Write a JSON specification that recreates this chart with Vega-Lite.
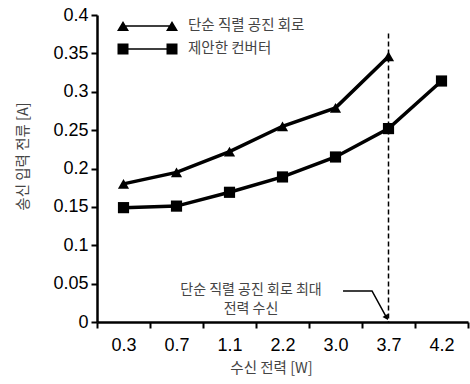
{
  "$schema": "https://vega.github.io/schema/vega-lite/v6.json",
  "width": 371,
  "height": 307,
  "autosize": "none",
  "padding": {"left": 97, "top": 15, "right": 2, "bottom": 62},
  "background": "white",
  "config": {
    "view": {"stroke": null},
    "axis": {
      "grid": false,
      "domainColor": "black",
      "domainWidth": 2.5,
      "tickColor": "black",
      "tickWidth": 2,
      "tickSize": 6,
      "labelFont": "Liberation Sans",
      "labelFontSize": 18,
      "labelColor": "black",
      "labelOverlap": false,
      "titleFont": "Noto Sans CJK KR",
      "titleFontSize": 14.5,
      "titleFontWeight": "normal",
      "titleColor": "#444"
    },
    "legend": {
      "labelFont": "Noto Sans CJK KR",
      "labelFontSize": 14.5,
      "labelColor": "#444"
    }
  },
  "datasets": {
    "series": [
      {"power": "0.3", "current": 0.180, "series": "단순 직렬 공진 회로"},
      {"power": "0.7", "current": 0.195, "series": "단순 직렬 공진 회로"},
      {"power": "1.1", "current": 0.222, "series": "단순 직렬 공진 회로"},
      {"power": "2.2", "current": 0.255, "series": "단순 직렬 공진 회로"},
      {"power": "3.0", "current": 0.279, "series": "단순 직렬 공진 회로"},
      {"power": "3.7", "current": 0.346, "series": "단순 직렬 공진 회로"},
      {"power": "0.3", "current": 0.149, "series": "제안한 컨버터"},
      {"power": "0.7", "current": 0.151, "series": "제안한 컨버터"},
      {"power": "1.1", "current": 0.169, "series": "제안한 컨버터"},
      {"power": "2.2", "current": 0.189, "series": "제안한 컨버터"},
      {"power": "3.0", "current": 0.215, "series": "제안한 컨버터"},
      {"power": "3.7", "current": 0.252, "series": "제안한 컨버터"},
      {"power": "4.2", "current": 0.314, "series": "제안한 컨버터"}
    ],
    "arrow": [
      {"pos": 4.642, "current": 0.0404, "order": 1},
      {"pos": 5.189, "current": 0.0404, "order": 2},
      {"pos": 5.464, "current": 0.0056, "order": 3}
    ],
    "arrowhead": [
      {"pos": 5.464, "current": 0.0056}
    ]
  },
  "encoding": {
    "y": {
      "field": "current",
      "type": "quantitative",
      "scale": {"domain": [0, 0.4], "nice": false, "zero": true},
      "axis": {"title": "송신 입력 전류 [A]", "values": [0, 0.05, 0.1, 0.15, 0.2, 0.25, 0.3, 0.35, 0.4], "format": "~g", "labelOverlap": false, "labelFlush": false, "labelPadding": 3, "titleX": -74, "titleY": 141, "titleAlign": "center", "titleBaseline": "middle", "titleAngle": -90}
    }
  },
  "layer": [
    {
      "layer": [
        {
          "data": {"values": [{"power": "3.7", "current": 0.376, "bottom": 0}]},
          "mark": {"type": "rule", "color": "black", "strokeWidth": 1.5, "strokeDash": [5, 3]},
          "encoding": {
            "x": {"field": "power", "type": "ordinal", "bandPosition": 0.5},
            "y2": {"field": "bottom"}
          }
        },
        {
          "data": {"name": "series"},
          "mark": {"type": "line", "color": "black", "strokeWidth": 3.5},
          "encoding": {
            "x": {"field": "power", "type": "ordinal", "bandPosition": 0.5},
            "detail": {"field": "series"}
          }
        },
        {
          "data": {"name": "series"},
          "mark": {"type": "point", "filled": true, "color": "black", "opacity": 1, "size": 125},
          "encoding": {
            "x": {"field": "power", "type": "ordinal", "bandPosition": 0.5},
            "shape": {
              "field": "series",
              "type": "nominal",
              "scale": {"domain": ["단순 직렬 공진 회로", "제안한 컨버터"], "range": ["triangle-up", "square"]},
              "legend": null
            }
          }
        },
        {
          "data": {"values": [{"power": "2.2", "current": 0.0423, "label": ["단순 직렬 공진 회로 최대", "전력 수신"]}]},
          "mark": {"type": "text", "font": "Noto Sans CJK KR", "fontSize": 14, "color": "#444", "align": "center", "baseline": "middle", "lineHeight": 19, "dx": -5},
          "encoding": {
            "x": {"field": "power", "type": "ordinal", "bandPosition": 0},
            "text": {"field": "label"}
          }
        }
      ],
      "encoding": {
        "x": {
          "field": "power",
          "type": "ordinal",
          "scale": {"type": "band", "domain": ["0.3", "0.7", "1.1", "2.2", "3.0", "3.7", "4.2"], "paddingInner": 0, "paddingOuter": 0},
          "axis": {"title": "수신 전력 [W]", "labelAngle": 0, "tickBand": "extent", "ticks": true, "labelPadding": 8, "tickSize": 6, "titleX": 174, "titleY": 46, "titleAlign": "center", "titleBaseline": "middle"}
        }
      }
    },
    {
      "data": {"name": "series"},
      "mark": {"type": "point", "filled": true, "color": "black", "opacity": 0},
      "encoding": {
        "shape": {
          "field": "series",
          "type": "nominal",
          "scale": {
            "domain": ["단순 직렬 공진 회로", "제안한 컨버터"],
            "range": [
              "M-3.05,0.5L-2.45,-0.5L-1.85,0.5Z M1.85,0.5L2.45,-0.5L3.05,0.5Z M-2.45,-0.075H2.45V0.075H-2.45Z",
              "M-3,-0.55H-1.9V0.55H-3Z M1.9,-0.55H3V0.55H1.9Z M-2.45,-0.075H2.45V0.075H-2.45Z"
            ]
          },
          "legend": {
            "title": null,
            "orient": "none",
            "legendX": 40.5,
            "legendY": 1,
            "symbolSize": 400,
            "symbolOpacity": 1,
            "symbolFillColor": "black",
            "symbolStrokeWidth": 0,
            "labelOffset": 30.5,
            "rowPadding": 6,
            "padding": 0
          }
        }
      }
    },
    {
      "layer": [
        {
          "data": {"name": "arrow"},
          "mark": {"type": "line", "color": "black", "strokeWidth": 1.5},
          "encoding": {
            "x": {"field": "pos", "type": "quantitative"},
            "order": {"field": "order"}
          }
        },
        {
          "data": {"name": "arrowhead"},
          "mark": {"type": "point", "shape": "triangle-up", "filled": true, "color": "black", "opacity": 1, "size": 40, "angle": 149},
          "encoding": {
            "x": {"field": "pos", "type": "quantitative"}
          }
        }
      ],
      "encoding": {
        "x": {"field": "pos", "type": "quantitative", "scale": {"domain": [0, 7], "nice": false, "zero": false}, "axis": null}
      }
    }
  ],
  "resolve": {"scale": {"x": "independent", "shape": "independent"}}
}
